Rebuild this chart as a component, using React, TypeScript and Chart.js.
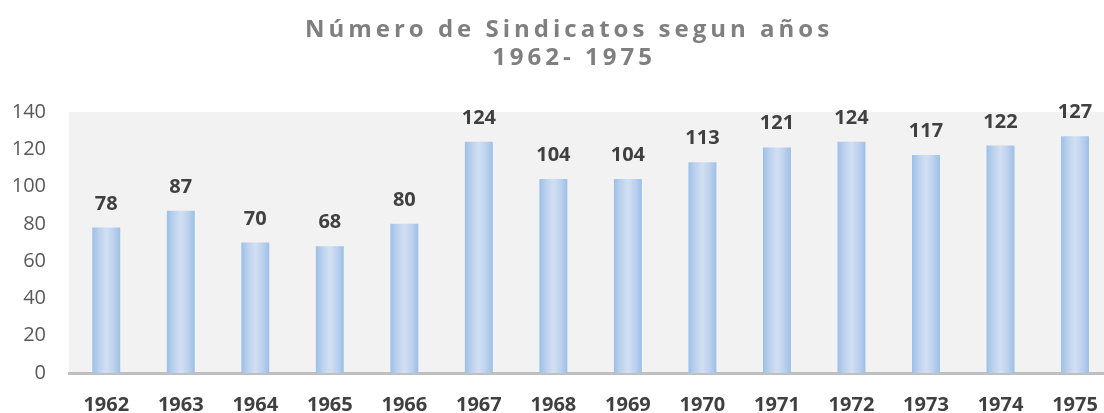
import React, { useEffect, useRef } from "react";
import { Chart, registerables } from "chart.js";

Chart.register(...registerables);

const years: string[] = ["1962", "1963", "1964", "1965", "1966", "1967", "1968", "1969", "1970", "1971", "1972", "1973", "1974", "1975"];
const sindicatos: number[] = [78, 87, 70, 68, 80, 124, 104, 104, 113, 121, 124, 117, 122, 127];
const titleLines: string[] = ["Número de Sindicatos segun años", "1962- 1975"];

const FONT = "'Open Sans', 'DejaVu Sans', sans-serif";

const plotBgPlugin = {
  id: "plotBg",
  beforeDraw(chart: any) {
    const { ctx, chartArea } = chart;
    if (!chartArea) return;
    ctx.save();
    ctx.fillStyle = "#f2f2f2";
    ctx.fillRect(chartArea.left, chartArea.top, chartArea.right - chartArea.left, chartArea.bottom - chartArea.top);
    ctx.restore();
  },
};

const titlePlugin = {
  id: "letterTitle",
  afterDraw(chart: any) {
    const { ctx } = chart;
    ctx.save();
    ctx.fillStyle = "#7f7f7f";
    ctx.font = `bold 24px ${FONT}`;
    ctx.textAlign = "center";
    ctx.textBaseline = "alphabetic";
    (ctx as any).letterSpacing = "4px";
    ctx.fillText(titleLines[0], 569, 37);
    ctx.fillText(titleLines[1], 574, 65);
    ctx.restore();
  },
};

const valueLabelPlugin = {
  id: "valueLabels",
  afterDatasetsDraw(chart: any) {
    const { ctx } = chart;
    const meta = chart.getDatasetMeta(0);
    ctx.save();
    ctx.fillStyle = "#404040";
    ctx.font = `bold 20px ${FONT}`;
    ctx.textAlign = "center";
    ctx.textBaseline = "alphabetic";
    meta.data.forEach((bar: any, i: number) => {
      ctx.fillText(String(chart.data.datasets[0].data[i]), bar.x, bar.y - 18);
    });
    ctx.restore();
  },
};

export default function App() {
  const canvasRef = useRef<HTMLCanvasElement | null>(null);

  useEffect(() => {
    if (!canvasRef.current) return;
    const chart = new Chart(canvasRef.current, {
      type: "bar",
      data: {
        labels: years,
        datasets: [
          {
            data: sindicatos,
            barPercentage: 0.375,
            categoryPercentage: 1,
            borderWidth: 0,
            backgroundColor: (c: any) => {
              const ch = c.chart;
              const area = ch.chartArea;
              if (!area || c.dataIndex === undefined) return "#b4cdea";
              const xs = ch.scales.x;
              const cx = xs.getPixelForValue(c.dataIndex);
              const w = ((area.right - area.left) / years.length) * 0.375;
              const g = ch.ctx.createLinearGradient(cx - w / 2, 0, cx + w / 2, 0);
              g.addColorStop(0, "#9dbfe7");
              g.addColorStop(0.25, "#bdd2ee");
              g.addColorStop(0.5, "#d2dff1");
              g.addColorStop(0.75, "#bdd2ee");
              g.addColorStop(1, "#9dbfe7");
              return g;
            },
          },
        ],
      },
      options: {
        animation: false,
        responsive: true,
        maintainAspectRatio: false,
        layout: { padding: { top: 112, right: 3, left: 0, bottom: 0 } },
        plugins: {
          legend: { display: false },
          title: { display: false },
          tooltip: { enabled: false },
        },
        scales: {
          x: {
            grid: { display: true, drawOnChartArea: false, drawTicks: false },
            border: { display: true, color: "#bfbfbf", width: 3 },
            ticks: {
              color: "#404040",
              font: { family: FONT, size: 20, weight: "bold" },
              padding: 20,
              maxRotation: 0,
              autoSkip: false,
            },
            afterFit: (s: any) => {
              s.height = 40;
            },
          },
          y: {
            min: 0,
            max: 140,
            grid: { display: false, drawTicks: false },
            border: { display: false },
            ticks: {
              stepSize: 20,
              color: "#595959",
              font: { family: FONT, size: 20 },
              padding: 23,
            },
            afterFit: (s: any) => {
              s.width = 69;
            },
          },
        },
      },
      plugins: [plotBgPlugin, valueLabelPlugin, titlePlugin],
    });
    return () => chart.destroy();
  }, []);

  return (
    <div style={{ position: "absolute", left: 0, top: 0, width: 1104, height: 413, overflow: "hidden", background: "#fff" }}>
      <div style={{ width: 1118, height: 413 }}>
        <canvas ref={canvasRef} />
      </div>
    </div>
  );
}
